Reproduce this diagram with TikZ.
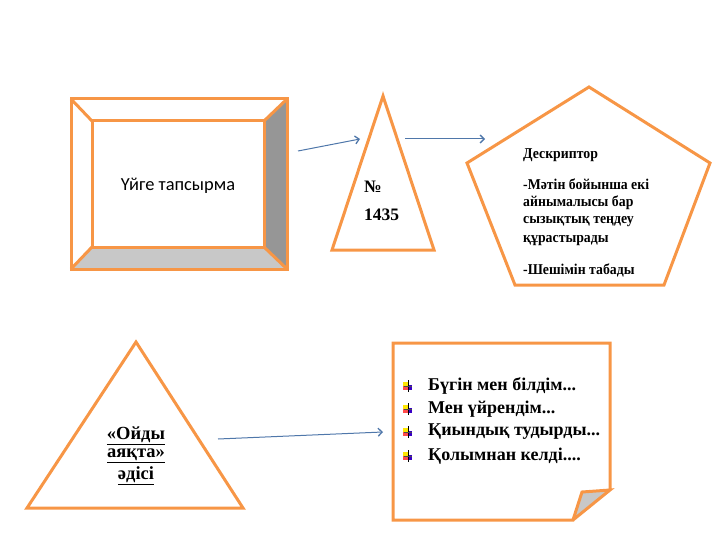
\documentclass[tikz,border=0pt]{standalone}
\usepackage{fontspec}
\setmainfont{Liberation Serif}
\newfontfamily\calib{Carlito}
\newfontfamily\condserif[FakeStretch=0.92]{Liberation Serif}
\usetikzlibrary{arrows.meta,calc}
\definecolor{orng}{RGB}{247,150,70}
\definecolor{arrblue}{RGB}{79,119,170}
\definecolor{dkgray}{RGB}{150,150,150}
\definecolor{ltgray}{RGB}{200,200,200}
\tikzset{
  shp/.style={draw=orng,line width=3pt,line join=miter},
  conn/.style={draw=arrblue,line width=1pt,-{Straight Barb[length=4pt,width=8pt,line width=1.3pt]}},
  txt/.style={inner sep=0pt,font=\bfseries\fontsize{17.5}{20}\selectfont},
  otxt/.style={inner sep=0pt,font=\bfseries\fontsize{18.5}{20}\selectfont},
  dtxt/.style={inner sep=0pt,anchor=west,font=\condserif\bfseries\fontsize{15}{17}\selectfont},
  ltxt/.style={inner sep=0pt,anchor=west,font=\bfseries\fontsize{18}{20}\selectfont},
}
\newcommand{\bulicon}[1]{%
  \fill[yellow!90!orange] ($(#1)+(-5,-4)$) rectangle ($(#1)+(0,1)$);
  \fill[red!70!white] ($(#1)+(-5,0)$) rectangle ($(#1)+(0,4)$);
  \fill[blue!70!purple] ($(#1)+(0,-1)$) rectangle ($(#1)+(4,4)$);
  \draw[black,line width=1pt] ($(#1)+(0,-6)$) -- ($(#1)+(0,6)$);
  \draw[black!70,line width=0.8pt] ($(#1)+(-4,0)$) -- ($(#1)+(4,0)$);
}
\begin{document}
\begin{tikzpicture}[x=1pt,y=-1pt]
\useasboundingbox (0,0) rectangle (720,540);
% bevel box
\fill[dkgray] (264,121) -- (287,99) -- (287,269) -- (264,247) -- cycle;
\fill[ltgray] (71,269) -- (92,247) -- (264,247) -- (287,269) -- cycle;
\draw[shp] (71,99) rectangle (287,269);
\draw[shp] (92,121) rectangle (264,247);
\draw[shp] (71,99) -- (92,121) (287,99) -- (264,121) (71,269) -- (92,247) (287,269) -- (264,247);
\node[inner sep=0pt,font=\calib\fontsize{18.4}{20}\selectfont] (home) at (178,186) {Үйге тапсырма};
% triangle 1
\draw[shp] (383,96) -- (434,250) -- (332,250) -- cycle;
\node[txt,anchor=west] (num) at (364,187) {№};
\node[txt,anchor=west] (numv) at (364,215) {1435};
% pentagon
\draw[shp] (589,87) -- (710,163) -- (664,285) -- (515,285) -- (467,163) -- cycle;
\node[dtxt] (d0) at (523,155) {Дескриптор};
\node[dtxt] (d1) at (523,184) {-Мәтін бойынша екі};
\node[dtxt] (d2) at (523,203) {айнымалысы бар};
\node[dtxt] (d3) at (523,222) {сызықтық теңдеу};
\node[dtxt] (d4) at (523,241) {құрастырады};
\node[dtxt] (d5) at (523,270) {-Шешімін табады};
% triangle 2
\draw[shp] (136,342) -- (243,508) -- (27,508) -- cycle;
\node[otxt] (o1) at (136,436) {\underline{«Ойды}};
\node[otxt] (o2) at (136,456) {\underline{аяқта»}};
\node[otxt] (o3) at (136,476) {\underline{әдісі}};
% note
\fill[ltgray] (573,520) -- (582,492) -- (610,490) -- cycle;
\draw[shp] (610,490) -- (610,343) -- (393,343) -- (393,520) -- (573,520) -- (582,492) -- (610,490) -- (573,520);
\bulicon{408,386}
\bulicon{408,409}
\bulicon{408,432}
\bulicon{408,456}
\node[ltxt] (l1) at (428,386) {Бүгін мен білдім...};
\node[ltxt] (l2) at (428,409) {Мен үйрендім...};
\node[ltxt] (l3) at (428,432) {Қиындық тудырды...};
\node[ltxt] (l4) at (428,456) {Қолымнан келді....};
% connectors
\coordinate (a1s) at (298,151);
\coordinate (a1e) at (360,139);
\coordinate (a2s) at (405,139);
\coordinate (a2e) at (485,139);
\coordinate (a3s) at (218,439);
\coordinate (a3e) at (383,432);
\draw[conn] (a1s) -- (a1e);
\draw[conn] (a2s) -- (a2e);
\draw[conn] (a3s) -- (a3e);
\end{tikzpicture}
\end{document}
